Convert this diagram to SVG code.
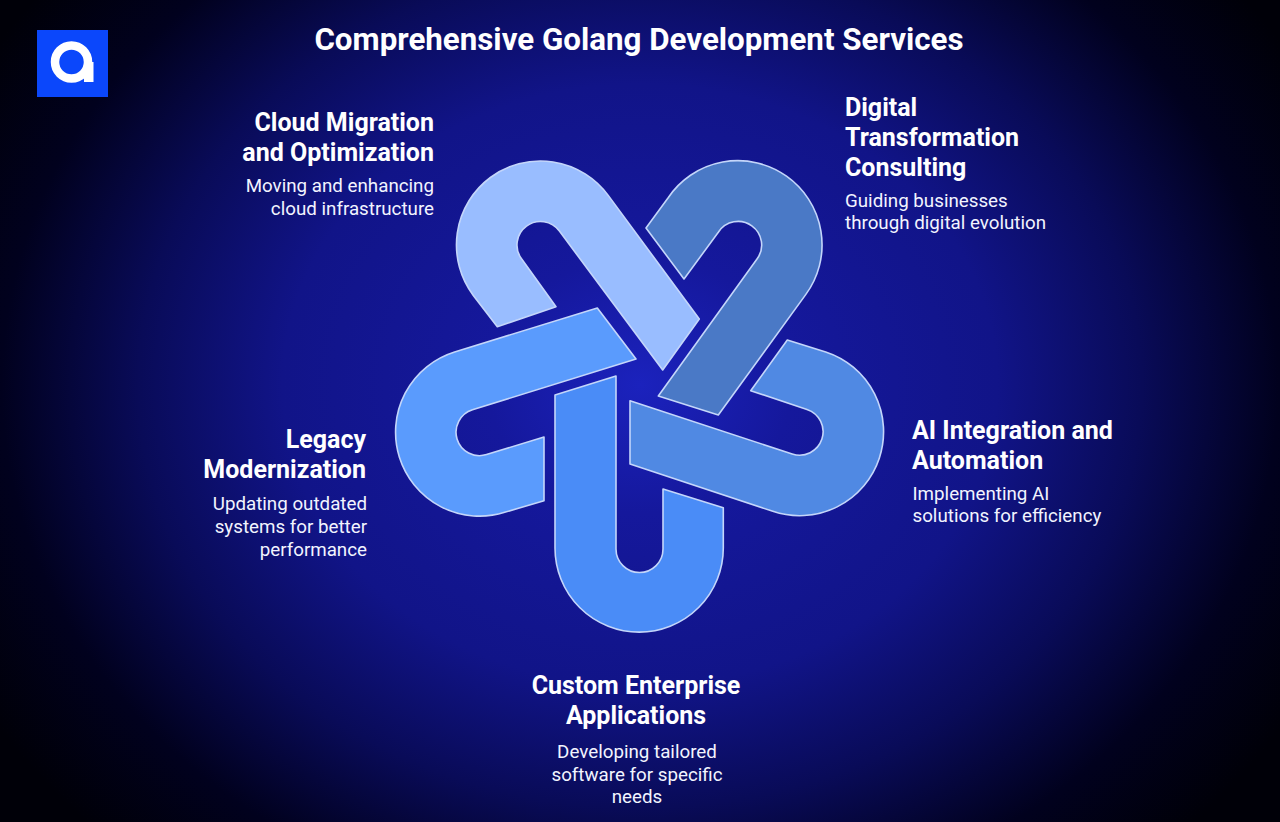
<svg xmlns="http://www.w3.org/2000/svg" width="1280" height="822" viewBox="0 0 1280 822">
<style>
text{font-family:Roboto,"Liberation Sans",sans-serif;fill:#fff}
.t{font-size:31.3px;font-weight:700}
.h{font-size:25px;font-weight:700}
.d{font-size:18.75px;font-weight:400;fill:#f2f4ff}
.e{text-anchor:end}.m{text-anchor:middle}
.s{stroke:#c4d6fa;stroke-width:1.6;stroke-linejoin:round}
</style>
<defs>
<radialGradient id="bg" gradientUnits="userSpaceOnUse" cx="640" cy="385" r="1" gradientTransform="translate(640 385) scale(760 640) translate(-640 -385)">
<stop offset="0" stop-color="#1b22bd"/>
<stop offset=".2" stop-color="#15189c"/>
<stop offset=".47" stop-color="#111488"/>
<stop offset=".66" stop-color="#090b58"/>
<stop offset=".84" stop-color="#01011e"/>
<stop offset="1" stop-color="#000008"/>
</radialGradient>
</defs>
<rect width="1280" height="822" fill="url(#bg)"/>
<g id="logo"><rect x="37" y="30" width="71" height="67" fill="#0b47fb"/><circle cx="71.5" cy="62" r="16.5" fill="none" stroke="#fff" stroke-width="8.5"/><rect x="84" y="62" width="9.5" height="20" fill="#fff"/></g>
<text id="title" class="t m" x="639" y="49.5">Comprehensive Golang Development Services</text>
<g id="connectors"></g>
<g id="node-cloud"><path class="s" fill="#99bdff" d="M497.3 326.7L473.3 295.4A84 84 0 0 1 490.4 177.5A84 84 0 0 1 608.2 195.4L699.3 319L662.7 370L559.4 231.1A23.5 23.5 0 0 0 526.5 226.1A23.5 23.5 0 0 0 521.7 259.1L556 306.7Z"/>
<text class="h e" x="434" y="131">Cloud Migration</text><text class="h e" x="434" y="161">and Optimization</text>
<text class="d e" x="434" y="192">Moving and enhancing</text><text class="d e" x="434" y="214.5">cloud infrastructure</text></g>
<g id="node-digital"><path class="s" fill="#4a79c6" d="M646 228L668 198A84 84 0 0 1 786.5 176.2A84 84 0 0 1 805.7 294.6L718.3 415L658.3 396L757 259A23.5 23.5 0 0 0 751.8 225.8A23.5 23.5 0 0 0 718.5 232L684 279Z"/>
<text class="h" x="845" y="116">Digital</text><text class="h" x="845" y="146">Transformation</text><text class="h" x="845" y="176">Consulting</text>
<text class="d" x="845" y="207">Guiding businesses</text><text class="d" x="845" y="229">through digital evolution</text></g>
<g id="node-ai"><path class="s" fill="#5089e3" d="M787.3 340L825.7 351.9A84 84 0 0 1 879.3 458.2A84 84 0 0 1 772.8 511.3L630 464V400.7L792.2 454A23.5 23.5 0 0 0 821.9 439.1A23.5 23.5 0 0 0 807 409.4L750.7 390.7Z"/>
<text class="h" x="912" y="439">AI Integration and</text><text class="h" x="912" y="469">Automation</text>
<text class="d" x="912.5" y="499.5">Implementing AI</text><text class="d" x="912.5" y="522">solutions for efficiency</text></g>
<g id="node-custom"><path class="s" fill="#4a8cf7" d="M555 395L616 376V549A23.5 23.5 0 0 0 663 549V489L723.3 507.7V548A84 84 0 0 1 555 548Z"/>
<text class="h m" x="636" y="694">Custom Enterprise</text><text class="h m" x="636" y="724">Applications</text>
<text class="d m" x="637" y="758">Developing tailored</text><text class="d m" x="637" y="781">software for specific</text><text class="d m" x="637" y="803">needs</text></g>
<g id="node-legacy"><path class="s" fill="#5a9bfd" d="M597.3 308L636 359L472.5 409.8A23.5 23.5 0 0 0 457.1 439.2A23.5 23.5 0 0 0 486.5 454.6L544 437V500.7L504.7 512.3A84 84 0 0 1 399.4 457.3A84 84 0 0 1 454.6 352Z"/>
<text class="h e" x="366" y="448">Legacy</text><text class="h e" x="366" y="478">Modernization</text>
<text class="d e" x="367" y="510">Updating outdated</text><text class="d e" x="367" y="533">systems for better</text><text class="d e" x="367" y="556">performance</text></g>
</svg>
